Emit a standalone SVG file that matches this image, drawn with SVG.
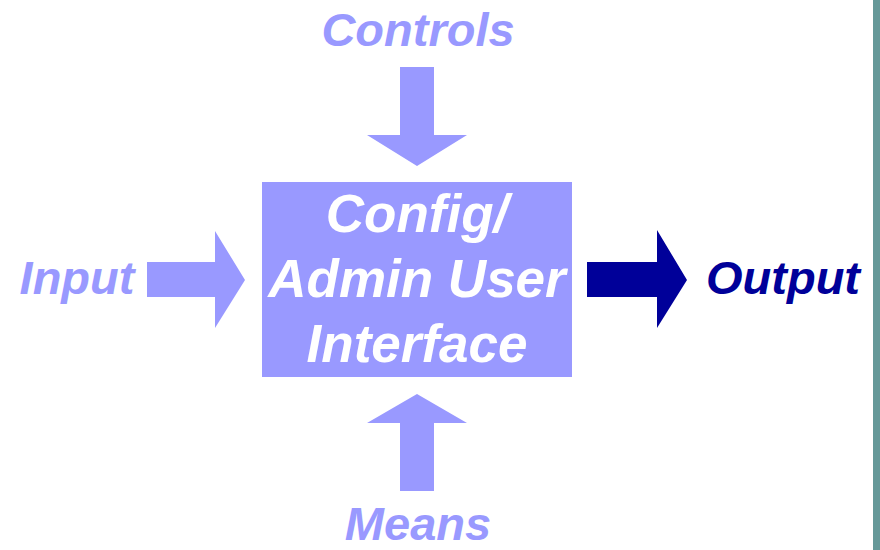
<svg xmlns="http://www.w3.org/2000/svg" width="880" height="550" viewBox="0 0 880 550">
<style>
.lbl{font-family:"Liberation Sans",Arial,sans-serif;font-weight:bold;font-style:italic;font-size:47px;fill:#9999FF;text-anchor:middle}
.box{fill:#9999FF}
.boxt{font-family:"Liberation Sans",Arial,sans-serif;font-weight:bold;font-style:italic;font-size:53px;fill:#FFFFFF;text-anchor:middle}
.arr{fill:#9999FF}
</style>
<rect x="0" y="0" width="880" height="550" fill="#FFFFFF"/>
<rect x="873" y="0" width="7" height="550" fill="#669999"/>
<g id="connectors">
<polygon class="arr" points="400,67 434,67 434,135 467,135 417,166 367,135 400,135"/>
<polygon class="arr" points="400,491 434,491 434,423 467,423 417,394 367,423 400,423"/>
<polygon class="arr" points="147,262 215,262 215,231 245,280 215,328 215,297 147,297"/>
<polygon fill="#000099" points="587,262 657,262 657,230 687,280 657,328 657,297 587,297"/>
</g>
<g id="process">
<rect class="box" x="262" y="182" width="310" height="195"/>
<text class="boxt" x="417" y="232">Config/</text>
<text class="boxt" x="417" y="297">Admin User</text>
<text class="boxt" x="417" y="362">Interface</text>
</g>
<g id="controls"><text class="lbl" x="418" y="46">Controls</text></g>
<g id="input"><text class="lbl" x="77" y="294">Input</text></g>
<g id="output"><text class="lbl" x="783" y="294" style="fill:#000099">Output</text></g>
<g id="means"><text class="lbl" x="418" y="540">Means</text></g>
</svg>
